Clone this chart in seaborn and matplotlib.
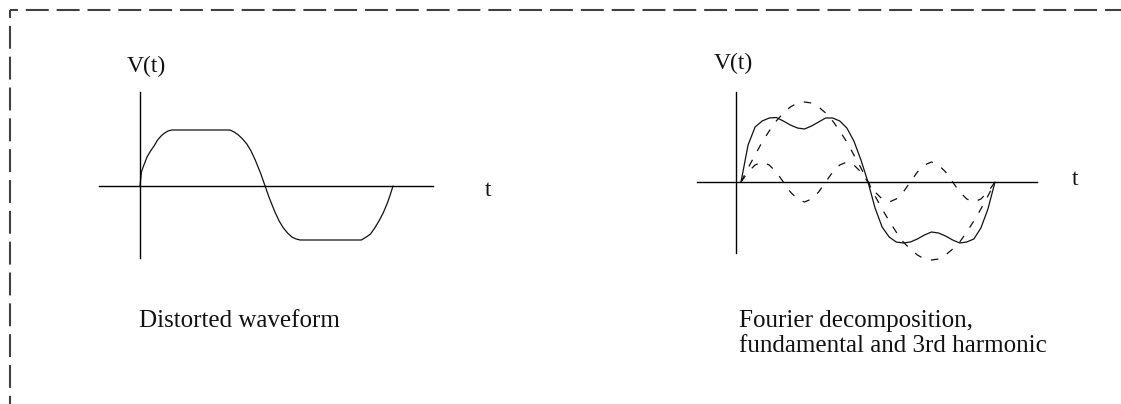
import numpy as np
import pandas as pd
import matplotlib.pyplot as plt
import seaborn as sns
from matplotlib.lines import Line2D

# Distorted (clipped) waveform: phase in degrees, height above the t axis
dist_t = [0, 1, 2, 5, 10, 15, 20, 25, 30, 35, 40, 45, 128, 134, 140, 146, 152, 158,
          164, 168, 172, 178, 184, 188, 192, 198, 204, 210, 216, 222, 228, 315, 322,
          328, 334, 340, 346, 352, 356, 360]
dist_v = [0, 7, 14, 20, 29, 35, 40, 46, 50, 53, 55, 56, 56, 54, 51, 47, 42, 35,
          26, 19, 12, 0, -12, -19, -26, -35, -42, -47, -51, -53, -54, -54, -51,
          -48, -42, -35, -27, -17, -9, 0]

# Fourier decomposition panel, sampled every 10 degrees
four_t = [0, 10, 20, 30, 40, 50, 60, 70, 80, 90, 100, 110, 120, 130, 140, 150, 160, 170,
          180, 190, 200, 210, 220, 230, 240, 250, 260, 270, 280, 290, 300, 310, 320,
          330, 340, 350, 360]
sum_v = [0, 37, 55, 61, 64, 64.5, 61, 57, 54, 53, 56, 60, 64, 64, 61, 54, 41, 22,
         0, -26, -45, -55, -60, -61, -60, -57, -53, -50, -51, -54, -58, -61, -60,
         -57, -46, -27, 0]
fund_v = [0, 14, 27, 40, 51, 61, 69, 75, 79, 80, 79, 75, 69, 61, 51, 40, 27, 14,
          0, -14, -27, -39, -50, -60, -67, -73, -77, -78, -77, -73, -67, -60, -50,
          -39, -27, -14, 0]
harm_v = [0, 10, 17, 20, 17, 10, 0, -10, -17, -20, -17, -10, 0, 10, 17, 20, 17, 10,
          0, -10, -17, -20, -17, -10, 0, 10, 17, 20, 17, 10, 0, -10, -17,
          -20, -17, -10, 0]

caption_left = ['Distorted waveform']
caption_right = ['Fourier decomposition,', 'fundamental and 3rd harmonic']

W, H = 1121, 404
sns.set_style('white')
plt.rcParams['font.family'] = ['Liberation Serif', 'DejaVu Serif']
plt.rcParams['font.size'] = 17

fig = plt.figure(figsize=(W / 100, H / 100), dpi=100)
fig.patch.set_facecolor('white')


def make_axes(left, right, top, bottom, x0, x360, y_axis, v_axis):
    # pixel layout -> axes box, 1 unit of height = 1 pixel
    ax = fig.add_axes([left / W, 1 - bottom / H, (right - left) / W, (bottom - top) / H])
    k = 360 / (x360 - x0)
    ax.set_xlim((left - x0) * k, (right - x0) * k)
    ax.set_ylim(-(bottom - y_axis), y_axis - top)
    for s in ['top', 'right']:
        ax.spines[s].set_visible(False)
    ax.spines['left'].set_position(('data', (v_axis - x0) * k))
    ax.spines['bottom'].set_position(('data', 0))
    for s in ['left', 'bottom']:
        ax.spines[s].set_color('black')
        ax.spines[s].set_linewidth(1.0)
    ax.patch.set_visible(False)
    return ax


ax1 = make_axes(99, 433, 92, 258, 140, 393, 186, 140)
ax2 = make_axes(697, 1037, 92, 253, 741, 995, 182, 736)

line_kw = dict(color='#111111', lw=0.9, estimator=None, sort=False, clip_on=False)
sns.lineplot(x=dist_t, y=dist_v, ax=ax1, **line_kw)
sns.lineplot(x=four_t, y=sum_v, ax=ax2, **line_kw)
sns.lineplot(x=four_t, y=fund_v, ax=ax2, linestyle=(0, (6, 8)), **line_kw)
sns.lineplot(x=four_t, y=harm_v, ax=ax2, linestyle=(0, (6, 8)), **line_kw)
for ax in [ax1, ax2]:
    ax.set_xticks([])
    ax.set_yticks([])
    ax.set_xlabel('')
    ax.set_ylabel('')

# axis labels
fig.text(146 / W, 1 - 66 / H, 'V(t)', ha='center', va='center', color='#111111')
fig.text(733 / W, 1 - 63 / H, 'V(t)', ha='center', va='center', color='#111111')
fig.text(488 / W, 1 - 190 / H, 't', ha='center', va='center', color='#111111')
fig.text(1075 / W, 1 - 180 / H, 't', ha='center', va='center', color='#111111')

# captions
for i, line in enumerate(caption_left):
    fig.text(139 / W, 1 - (327 + 25 * i) / H, line, ha='left', va='baseline',
             color='#111111', fontsize=18)
for i, line in enumerate(caption_right):
    fig.text(739 / W, 1 - (327 + 25 * i) / H, line, ha='left', va='baseline',
             color='#111111', fontsize=18)

# dashed frame (top and left edges visible)
frame_style = dict(transform=fig.transFigure, color='#404040', lw=1.5,
                   linestyle=(7.2, (11, 3.8)))
fig.add_artist(Line2D([10 / W, 1.05], [1 - 10 / H, 1 - 10 / H], **frame_style))
fig.add_artist(Line2D([10 / W, 10 / W], [1 - 10 / H, -0.05], **frame_style))

fig.savefig('out.png', dpi=100, facecolor='white')
